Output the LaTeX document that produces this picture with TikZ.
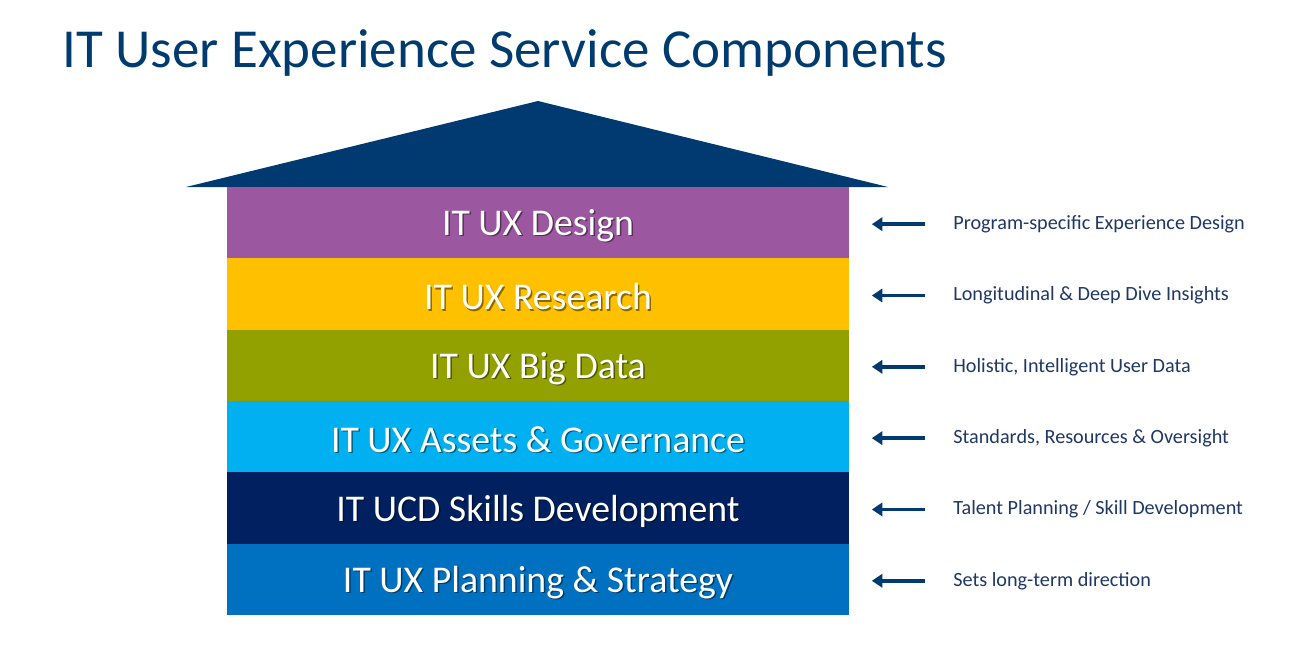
\documentclass[tikz,border=0pt]{standalone}
\usepackage{fontspec}
\setmainfont{Carlito}
\usetikzlibrary{positioning,arrows.meta}

\definecolor{titleblue}{RGB}{0,59,111}
\definecolor{roofblue}{RGB}{0,58,112}
\definecolor{uxpurple}{RGB}{155,87,160}
\definecolor{uxyellow}{RGB}{255,192,0}
\definecolor{uxgreen}{RGB}{146,160,0}
\definecolor{uxcyan}{RGB}{0,176,240}
\definecolor{uxnavy}{RGB}{0,32,96}
\definecolor{uxblue}{RGB}{0,112,192}
\definecolor{notetext}{RGB}{31,56,100}

\tikzset{
  band/.style={rectangle, minimum width=12.44cm, minimum height=1.4267cm, inner sep=0pt, outer sep=0pt},
  bandtxt/.style={text=white, font=\fontsize{21.5}{24}\selectfont, inner sep=0pt},
  bandshadow/.style={text=black, opacity=0.45, font=\fontsize{21.5}{24}\selectfont, inner sep=0pt},
  note/.style={anchor=west, text=notetext, font=\fontsize{11.5}{13}\selectfont, inner sep=0pt},
  notearrow/.style={roofblue, line width=2pt, -{Triangle[length=6pt,width=7.5pt]},
    shorten <=15.9pt, shorten >=13pt}
}

\begin{document}
\begin{tikzpicture}[x=0.02cm, y=-0.02cm]
  \useasboundingbox[fill=white] (0,0) rectangle (1306,660);

  % Title
  \node[anchor=west, text=titleblue, font=\fontsize{31.3}{36}\selectfont, inner sep=0pt]
    (title) at (62,53) {IT User Experience Service Components};

  % Roof
  \fill[roofblue] (186,187) -- (538,101) -- (888,187) -- cycle;

  % Layers and their notes
  \foreach \i/\col/\txt/\note in {
      1/uxpurple/{IT UX Design}/{Program-specific Experience Design},
      2/uxyellow/{IT UX Research}/{Longitudinal \& Deep Dive Insights},
      3/uxgreen/{IT UX Big Data}/{Holistic, Intelligent User Data},
      4/uxcyan/{IT UX Assets \& Governance}/{Standards, Resources \& Oversight},
      5/uxnavy/{IT UCD Skills Development}/{Talent Planning / Skill Development},
      6/uxblue/{IT UX Planning \& Strategy}/{Sets long-term direction}}{
    \pgfmathsetmacro{\yy}{187+71.33*(\i-0.5)}
    \node[band, fill=\col] (b\i) at (538,\yy) {};
    \node[bandshadow] at (539.5,\yy+4.5) {\txt};
    \node[bandtxt] (t\i) at (538,\yy+3) {\txt};
    \node[note] (n\i) at (953,\yy+1.5) {\note};
    \draw[notearrow] (n\i.west) -- (b\i.east |- n\i.west);
  }
\end{tikzpicture}
\end{document}
